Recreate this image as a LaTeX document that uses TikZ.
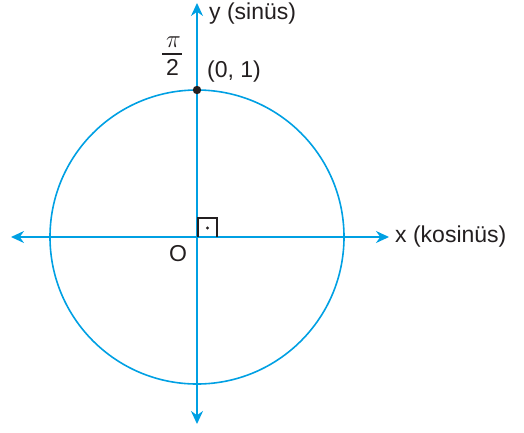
\documentclass[tikz,border=0pt]{standalone}
\usepackage{fontspec}
\setmainfont{Liberation Sans}
\usetikzlibrary{arrows.meta}
\definecolor{axisblue}{RGB}{0,160,227}
\definecolor{ink}{RGB}{35,31,32}
\begin{document}
\begin{tikzpicture}[x=1pt,y=-1pt,
  axisline/.style={draw=axisblue,line width=1.8pt,-{Stealth[length=13pt,width=12pt]}},
  lbl/.style={text=ink,font=\fontsize{23}{27}\selectfont,inner sep=0pt}]
\useasboundingbox (0,0) rectangle (524,432);
\coordinate (O) at (197,237);
\coordinate (xl) at (11,237);
\coordinate (xr) at (389,237);
\coordinate (yt) at (197,3);
\coordinate (yb) at (197,424);
\draw[axisblue,line width=1.6pt] (O) circle[radius=147];
\draw[axisline] (O) -- (xr);
\draw[axisline] (O) -- (xl);
\draw[axisline] (O) -- (yt);
\draw[axisline] (O) -- (yb);
\draw[ink,line width=1.1pt] (198,237) -- (198,218) -- (217,218) -- (217,237);
\fill[ink] (207.5,228) circle[radius=1.6];
\fill[ink] (197,90) circle[radius=4.2];
\node[lbl,anchor=west] (xlab) at (395,237) {x (kosinüs)};
\node[lbl,anchor=west] (ylab) at (209,14) {y (sinüs)};
\node[lbl,anchor=west] (pt) at (207,72) {(0, 1)};
\node[lbl] (olab) at (178,254) {O};
\node[lbl,font=\fontsize{28}{30}\selectfont] (pi) at (173.5,42) {$\pi$};
\draw[ink,line width=1.2pt] (162,54) -- (182,54);
\node[lbl] (two) at (172.5,67) {2};
\end{tikzpicture}
\end{document}
